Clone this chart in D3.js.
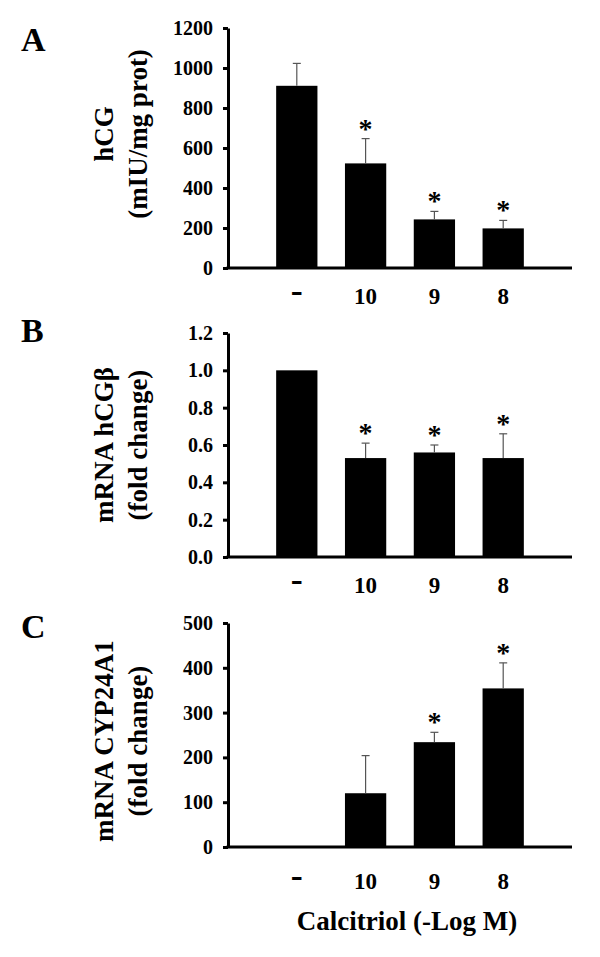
<!DOCTYPE html>
<html>
<head>
<meta charset="utf-8">
<script src="https://cdn.jsdelivr.net/npm/d3@7"></script>
<style>
  body { margin: 0; background: #fff; }
  svg text { font-family: "Liberation Serif", "Times New Roman", serif; font-weight: bold; fill: #000; }
</style>
</head>
<body>
<div id="chart"></div>
<script>
// data
const categories = ["-", "10", "9", "8"];

const hcgMean = [911, 523, 243, 198];
const hcgErr  = [112, 124, 40, 40];
const hcgSig  = [false, true, true, true];
const hcgTicks = [0, 200, 400, 600, 800, 1000, 1200];

const hcgbMean = [1.0, 0.53, 0.56, 0.53];
const hcgbErr  = [0, 0.08, 0.04, 0.13];
const hcgbSig  = [false, true, true, true];
const hcgbTicks = [0, 0.2, 0.4, 0.6, 0.8, 1.0, 1.2];

const cypMean = [0, 120, 234, 354];
const cypErr  = [0, 84, 22, 57];
const cypSig  = [false, false, true, true];
const cypTicks = [0, 100, 200, 300, 400, 500];

const xTitle = "Calcitriol (-Log M)";

const W = 600, H = 957;
const axisLeft = 228, axisRight = 572;

const svg = d3.select("#chart").append("svg")
  .attr("width", W)
  .attr("height", H);

const slot = (axisRight - axisLeft) / 5;
const x = d3.scaleBand()
  .domain(categories)
  .range([axisLeft + slot / 2, axisRight - slot / 2])
  .paddingInner(0.4)
  .paddingOuter(0.2);

const panels = [
  {letter: "A", letterY: 51, top: 28, bottom: 268, ticks: hcgTicks, fmt: d3.format("d"),
   mean: hcgMean, err: hcgErr, sig: hcgSig, title: ["hCG", "(mIU/mg prot)"], titleY: 134, labelDy: 36},
  {letter: "B", letterY: 342, top: 333, bottom: 557, ticks: hcgbTicks, fmt: d3.format(".1f"),
   mean: hcgbMean, err: hcgbErr, sig: hcgbSig, title: ["mRNA hCGβ", "(fold change)"], titleY: 445, labelDy: 36},
  {letter: "C", letterY: 638, top: 623, bottom: 847, ticks: cypTicks, fmt: d3.format("d"),
   mean: cypMean, err: cypErr, sig: cypSig, title: ["mRNA CYP24A1", "(fold change)"], titleY: 741, labelDy: 42}
];

panels.forEach(p => {
  const y = d3.scaleLinear()
    .domain([0, d3.max(p.ticks)])
    .range([p.bottom, p.top]);

  const g = svg.append("g");

  // panel letter
  g.append("text")
    .attr("x", 21)
    .attr("y", p.letterY)
    .style("font-size", "34px")
    .text(p.letter);

  // y axis
  const ya = g.append("g")
    .attr("transform", `translate(${axisLeft},0)`)
    .call(d3.axisLeft(y).tickValues(p.ticks).tickFormat(p.fmt).tickSize(5).tickSizeOuter(0).tickPadding(10));
  ya.select(".domain").attr("stroke", "#000").attr("stroke-width", 3);
  ya.selectAll(".tick line").attr("stroke", "#000").attr("stroke-width", 3);
  ya.selectAll(".tick text").style("font-size", "20px");

  // y title, two lines rotated
  const t = g.append("text")
    .attr("transform", `translate(113,${p.titleY}) rotate(-90)`)
    .attr("text-anchor", "middle")
    .style("font-size", "27px");
  p.title.forEach((line, i) => {
    t.append("tspan")
      .attr("x", 0)
      .attr("y", i * 34)
      .text(line);
  });

  const data = categories.map((c, i) => ({cat: c, mean: p.mean[i], err: p.err[i], sig: p.sig[i]}));

  // bars
  g.selectAll(".bar")
    .data(data)
    .enter()
    .append("rect")
    .attr("class", "bar")
    .attr("x", d => x(d.cat))
    .attr("y", d => y(d.mean))
    .attr("width", x.bandwidth())
    .attr("height", d => p.bottom - y(d.mean))
    .attr("fill", "#000");

  // upper error bars
  const eb = data.filter(d => d.err > 0);
  g.selectAll(".err")
    .data(eb)
    .enter()
    .append("line")
    .attr("x1", d => x(d.cat) + x.bandwidth() / 2)
    .attr("x2", d => x(d.cat) + x.bandwidth() / 2)
    .attr("y1", d => y(d.mean))
    .attr("y2", d => y(d.mean + d.err))
    .attr("stroke", "#555")
    .attr("stroke-width", 1.2);
  g.selectAll(".cap")
    .data(eb)
    .enter()
    .append("line")
    .attr("x1", d => x(d.cat) + x.bandwidth() / 2 - 4)
    .attr("x2", d => x(d.cat) + x.bandwidth() / 2 + 4)
    .attr("y1", d => y(d.mean + d.err))
    .attr("y2", d => y(d.mean + d.err))
    .attr("stroke", "#555")
    .attr("stroke-width", 1.2);

  // significance stars
  g.selectAll(".star")
    .data(data.filter(d => d.sig))
    .enter()
    .append("text")
    .attr("x", d => x(d.cat) + x.bandwidth() / 2)
    .attr("y", d => y(d.mean + d.err) - 1)
    .attr("text-anchor", "middle")
    .style("font-size", "28px")
    .text("*");

  // x axis line
  g.append("line")
    .attr("x1", axisLeft - 1.5)
    .attr("x2", axisRight)
    .attr("y1", p.bottom)
    .attr("y2", p.bottom)
    .attr("stroke", "#000")
    .attr("stroke-width", 3);

  // category labels
  g.selectAll(".xlab")
    .data(categories)
    .enter()
    .append("text")
    .attr("x", d => x(d) + x.bandwidth() / 2)
    .attr("y", p.bottom + p.labelDy)
    .attr("text-anchor", "middle")
    .style("font-size", d => d === "-" ? "36px" : "23px")
    .attr("dy", d => d === "-" ? "-2" : "0")
    .text(d => d);
});

svg.append("text")
  .attr("x", 407)
  .attr("y", 930)
  .attr("text-anchor", "middle")
  .style("font-size", "27px")
  .text(xTitle);
</script>
</body>
</html>
